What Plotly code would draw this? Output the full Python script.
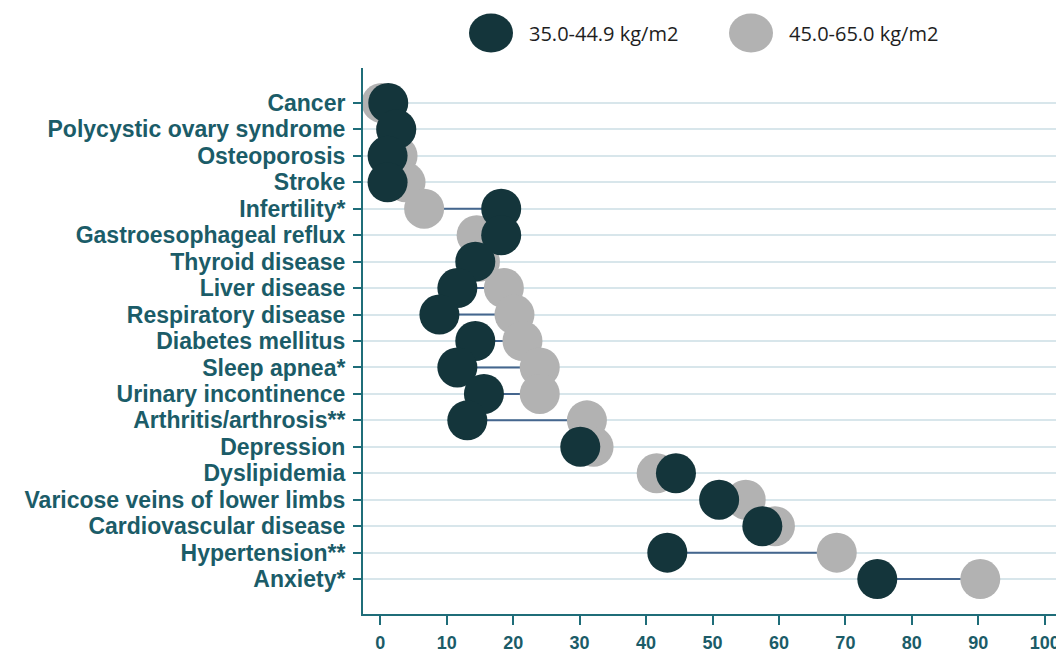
import plotly.graph_objects as go

categories = [
    "Cancer", "Polycystic ovary syndrome", "Osteoporosis", "Stroke", "Infertility*",
    "Gastroesophageal reflux", "Thyroid disease", "Liver disease", "Respiratory disease",
    "Diabetes mellitus", "Sleep apnea*", "Urinary incontinence", "Arthritis/arthrosis**",
    "Depression", "Dyslipidemia", "Varicose veins of lower limbs", "Cardiovascular disease",
    "Hypertension**", "Anxiety*",
]
bmi_35_449 = [1.2, 2.4, 1.1, 1.1, 18.2, 18.2, 14.3, 11.6, 8.9, 14.3, 11.6, 15.6, 13.1,
              30.1, 44.5, 51.0, 57.5, 43.2, 74.8]
bmi_45_65 = [0.2, 2.4, 2.6, 3.8, 6.6, 14.5, 15.0, 18.6, 20.2, 21.4, 24.0, 24.0, 31.1,
             32.1, 41.6, 55.0, 59.4, 68.7, 90.3]
x_ticks = [0, 10, 20, 30, 40, 50, 60, 70, 80, 90, 100]
legend_names = ["35.0-44.9 kg/m2", "45.0-65.0 kg/m2"]

DARK = "#14353b"
GRAY = "#b2b2b2"
AXIS = "#1f6d79"
TEXT = "#1b5c68"
GRID = "#d8e6eb"
LINK = "#45668e"
FONT = "Open Sans"
LABEL_FONT = "Liberation Sans"

# the page body adds an 8px margin; lay out in window pixels and shift by it
OFF = 8
W, H = 1064 - OFF, 652 - OFF
L, R, T, B = 363 - OFF, 1060 - OFF, 68 - OFF, 614 - OFF

# connecting segments
lx, ly = [], []
for c, a, b in zip(categories, bmi_35_449, bmi_45_65):
    lx += [a, b, None]
    ly += [c, c, None]

fig = go.Figure()
fig.add_trace(go.Scatter(x=lx, y=ly, mode="lines", line=dict(color=LINK, width=2),
                         showlegend=False, hoverinfo="skip"))
fig.add_trace(go.Scatter(x=bmi_45_65, y=categories, mode="markers", name=legend_names[1],
                         marker=dict(color=GRAY, size=40, line=dict(width=0)),
                         showlegend=False))
fig.add_trace(go.Scatter(x=bmi_35_449, y=categories, mode="markers", name=legend_names[0],
                         marker=dict(color=DARK, size=40, line=dict(width=0)),
                         showlegend=False))


def px_to_paper(px, py):
    # px, py given in window pixels
    return (px - OFF - L) / (R - L), (B - (py - OFF)) / (B - T)


# manual legend
leg_items = [(491, 33, DARK, 527, legend_names[0]), (751, 33, GRAY, 787, legend_names[1])]
shapes = []
annotations = []
for cx, cy, col, tx, name in leg_items:
    xp, yp = px_to_paper(cx, cy)
    shapes.append(dict(type="circle", xref="paper", yref="paper", xsizemode="pixel",
                       ysizemode="pixel", xanchor=xp, yanchor=yp, x0=-22, x1=22,
                       y0=-19.5, y1=19.5, fillcolor=col, line=dict(width=0)))
    txp, typ = px_to_paper(tx, cy)
    annotations.append(dict(text=name, xref="paper", yref="paper", x=txp, y=typ,
                            xanchor="left", yanchor="middle", showarrow=False,
                            font=dict(family=FONT, size=20, color="#1e1e1e")))

n = len(categories)
fig.update_layout(
    width=W, height=H,
    margin=dict(l=L, r=W - R, t=T, b=H - B, autoexpand=False),
    paper_bgcolor="white", plot_bgcolor="white",
    shapes=shapes, annotations=annotations,
    xaxis=dict(range=[-2.6, 102.3], tickmode="array", tickvals=x_ticks,
               ticktext=[str(v) for v in x_ticks],
               showgrid=False, zeroline=False, showline=True, linecolor=AXIS, linewidth=2,
               ticks="outside", ticklen=9, tickwidth=2, tickcolor=AXIS,
               tickfont=dict(family=LABEL_FONT, size=18, color=TEXT, weight="bold"),
               ticklabelstandoff=2),
    yaxis=dict(type="category", categoryorder="array", categoryarray=categories,
               tickmode="array", tickvals=categories, ticktext=categories,
               range=[n - 1 + 1.32, -1.32], showgrid=True, gridcolor=GRID, gridwidth=1.5,
               zeroline=False, showline=True, linecolor=AXIS, linewidth=2,
               ticks="outside", ticklen=8, tickwidth=2, tickcolor=AXIS,
               tickfont=dict(family=LABEL_FONT, size=23, color=TEXT, weight="bold"),
               ticklabelstandoff=3),
    showlegend=False,
)

fig.write_html("out.html")
